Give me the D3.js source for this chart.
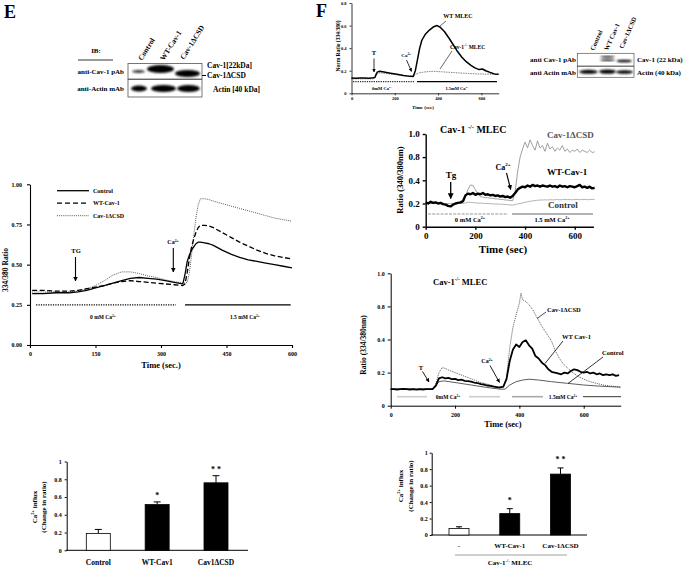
<!DOCTYPE html>
<html><head><meta charset="utf-8">
<script src="https://cdn.jsdelivr.net/npm/d3@7"></script>
<style>
html,body{margin:0;padding:0;background:#fff;}
svg{display:block;}
</style></head><body>
<svg id="c" width="688" height="566"></svg>
<script>
// ================= DATA =================
// Panel E – line chart
const eSeriesNames = ["Control","WT-Cav-1","Cav-1ΔCSD"];
const eTime    = [5,30,60,90,110,130,150,170,190,210,230,250,270,290,310,330,350,355,360,365,370,375,380,385,390,400,410,420,440,460,480,500,520,540,560,580,600];
const eControl = [.32,.32,.325,.325,.33,.34,.355,.37,.385,.40,.415,.42,.415,.41,.40,.39,.38,.44,.52,.56,.59,.61,.63,.64,.64,.635,.63,.62,.59,.565,.545,.53,.52,.51,.50,.49,.48];
const eWT      = [.34,.34,.335,.335,.34,.35,.36,.37,.385,.395,.40,.395,.39,.385,.38,.375,.37,.38,.45,.54,.61,.66,.70,.73,.745,.745,.74,.73,.70,.67,.64,.615,.59,.57,.555,.545,.535];
const eCSD     = [.33,.33,.33,.33,.335,.35,.37,.40,.435,.455,.455,.445,.43,.42,.405,.395,.385,.385,.39,.45,.56,.68,.79,.87,.91,.91,.905,.895,.88,.865,.85,.835,.82,.805,.79,.78,.77];
const eXTicks  = [0,150,300,450,600];
const eYTicks  = [0,0.25,0.5,0.75,1.0];

// Panel E – bar chart
const eBarCats  = ["Control","WT-Cav1","Cav1ΔCSD"];
const eBarVals  = [0.19,0.515,0.76];
const eBarErr   = [0.045,0.03,0.08];
const eBarStars = ["","*","* *"];
const eBarYTicks = [0,0.2,0.4,0.6,0.8,1];
const eBarYLabels = ["0","0.2","0.4","0.6","0.8","1"];

// Panel F – top small chart
const ftWT = [[0,.135],[20,.134],[40,.136],[60,.135],[80,.134],[100,.137],[108,.14],[114,.17],[120,.19],[130,.195],[150,.188],[180,.178],[210,.168],[240,.158],[270,.15],[285,.148],[295,.2],[305,.3],[315,.4],[325,.47],[340,.52],[360,.56],[380,.59],[395,.6],[410,.585],[430,.545],[450,.49],[470,.43],[490,.37],[510,.32],[530,.28],[550,.25],[570,.225],[590,.21],[605,.215],[620,.2],[640,.185],[660,.172],[680,.168]];
const ftKO = [[0,.128],[100,.128],[112,.15],[122,.18],[140,.18],[180,.17],[220,.162],[260,.155],[285,.15],[295,.165],[310,.18],[340,.19],[380,.195],[420,.19],[460,.185],[500,.18],[540,.176],[580,.172],[620,.17],[680,.168]];
const ftXTicks = [0,200,400,600];
const ftYTicks = [0,0.2,0.4,0.6,0.8];

// Panel F – middle chart (Tg)
const fmTime = [0,10,20,30,40,50,60,70,80,90,100,110,120,130,140,150,160,170,180,190,200,210,220,230,240,250,260,270,280,290,300,310,320,330,340,350,360,370,380,390,400,410,420,430,440,450,460,470,480,490,500,510,520,530,540,550,560,570,580,590,600,610,620,630,640,650,660,670,680];
const fmWT = [.21,.20,.215,.205,.21,.20,.205,.195,.19,.18,
  .175,.19,.20,.205,.21,.22,.27,.285,.28,.29,
  .275,.285,.28,.29,.275,.28,.27,.275,.265,.27,
  .26,.265,.255,.26,.25,.265,.29,.32,.335,.345,
  .34,.355,.345,.36,.35,.355,.345,.355,.35,.345,
  .355,.345,.35,.34,.355,.345,.35,.34,.35,.345,
  .34,.35,.36,.34,.345,.335,.345,.33,.335];
const fmCSD = [.205,.2,.2,.205,.2,.2,.2,.195,.19,.185,
  .18,.19,.2,.2,.205,.21,.26,.32,.36,.355,
  .32,.28,.26,.255,.25,.25,.245,.245,.24,.24,
  .235,.235,.23,.23,.225,.225,.3,.55,.8,.87,
  .93,.88,.95,.9,.86,.94,.88,.9,.85,.92,
  .87,.89,.85,.88,.86,.9,.85,.87,.84,.86,
  .85,.87,.84,.86,.85,.84,.86,.84,.845];
const fmControl = [.2,.2,.2,.2,.2,.2,.2,.2,.2,.2,.2,.2,.2,.2,.2,.2,
  .205,.21,.21,.208,.205,.204,.203,.202,.2,.2,.198,.197,.196,.195,.194,.193,.192,.19,.188,.186,
  .19,.196,.2,.205,.21,.215,.22,.222,.225,.228,.23,
  .23,.232,.23,.233,.231,.232,.234,.232,.233,.235,.233,.234,.232,.234,.235,.233,.234,.235,.233,.234,.235,.234];
const fmXTicks = [0,200,400,600];
const fmYTicks = [0,0.2,0.4,0.8,1.0];
const fmYLabels = ["0","0.2","0.4","0.8","1.0"];

// Panel F – lower chart (T)
const flTime = [0,10,20,30,40,50,60,70,80,90,100,110,120,130,140,150,160,170,180,190,200,210,220,230,240,250,260,270,280,290,300,310,320,330,340,350,360,370,380,390,400,410,420,430,440,450,460,470,480,490,500,510,520,530,540,550,560,570,580,590,600,610,620,630,640,650,660,670,680,690,700,710];
const flWT = [.1,.1,.098,.1,.102,.1,.098,.1,.097,.1,
  .098,.1,.1,.1,.12,.165,.172,.165,.168,.16,
  .162,.155,.157,.15,.148,.145,.14,.137,.13,.128,
  .122,.12,.115,.112,.11,.115,.16,.27,.34,.37,
  .355,.385,.395,.365,.345,.3,.285,.26,.245,.22,
  .205,.2,.195,.19,.2,.195,.21,.22,.215,.205,
  .2,.205,.195,.2,.19,.195,.185,.19,.185,.19,
  .18,.185];
const flCSD = [[0,.1],[130,.1],[140,.13],[150,.2],[160,.23],[170,.225],[180,.215],[200,.2],[220,.185],[240,.17],[260,.155],[280,.14],[300,.13],[320,.12],[340,.11],[350,.11],[360,.17],[370,.35],[380,.55],[390,.7],[400,.82],[405,.88],[410,.84],[420,.83],[430,.81],[440,.77],[450,.7],[460,.63],[470,.56],[480,.5],[490,.44],[500,.39],[510,.34],[520,.3],[530,.27],[540,.245],[560,.21],[580,.18],[600,.16],[620,.145],[640,.135],[660,.125],[680,.12],[700,.115],[715,.112]];
const flControl = [[0,.1],[130,.1],[140,.12],[150,.145],[165,.15],[200,.14],[250,.125],[300,.11],[340,.1],[355,.1],[370,.125],[390,.145],[410,.155],[430,.16],[460,.155],[500,.145],[550,.135],[600,.125],[650,.118],[715,.112]];
const flXTicks = [0,200,400,600];
const flYTicks = [0,0.2,0.4,0.8,1.0];
const flYLabels = ["0","0.2","0.4","0.8","1.0"];

// Panel F – bar chart
const fBarCats  = ["-","WT-Cav-1","Cav-1ΔCSD"];
const fBarVals  = [0.08,0.26,0.74];
const fBarErr   = [0.02,0.06,0.075];
const fBarStars = ["","*","* *"];
const fBarYTicks = [0,0.2,0.4,0.6,0.8,1];
const fBarYLabels = ["0","0.2","0.4","0.6","0.8","1"];

// ================= DRAWING =================
const FONT = "'Liberation Serif','Times New Roman',serif";
const svg = d3.select("#c").attr("font-family", FONT).attr("font-weight","bold");
const defs = svg.append("defs");
defs.append("marker").attr("id","ah").attr("viewBox","0 0 10 10").attr("refX",9).attr("refY",5)
  .attr("markerWidth",4.5).attr("markerHeight",4.5).attr("orient","auto")
  .append("path").attr("d","M0,0L10,5L0,10z").attr("fill","#000");
defs.append("filter").attr("id","blur").attr("x","-50%").attr("y","-50%").attr("width","200%").attr("height","200%")
  .append("feGaussianBlur").attr("stdDeviation",0.9);

function txt(x, y, parts, fs, anchor, opts) {
  opts = opts || {};
  const t = svg.append("text").attr("x",x).attr("y",y).attr("font-size",fs)
    .attr("text-anchor",anchor||"start").attr("fill",opts.fill||"#000");
  if (opts.rotate) t.attr("transform",`rotate(${opts.rotate},${x},${y})`);
  const list = (typeof parts === "string") ? [[parts]] : parts;
  let sup = false;
  list.forEach(p => {
    const ts = t.append("tspan").text(p[0]);
    if (p[1]) { ts.attr("dy", -fs*0.4).attr("font-size", fs*0.62); }
    else if (sup) { ts.attr("dy", fs*0.4); }
    sup = !!p[1];
  });
  return t;
}
function styleAxis(g, fs, sw) {
  g.attr("font-family", FONT).attr("font-size", fs).attr("font-weight","bold");
  g.selectAll("path.domain").attr("stroke","#000").attr("stroke-width",sw);
  g.selectAll(".tick line").attr("stroke","#000").attr("stroke-width",sw);
  g.selectAll(".tick text").attr("fill","#000");
}
function drawLine(data, xs, ys, color, w, dash) {
  svg.append("path").datum(data).attr("fill","none").attr("stroke",color)
    .attr("stroke-width",w).attr("stroke-dasharray",dash||null).attr("stroke-linejoin","round")
    .attr("d", d3.line().x(d=>xs(d[0])).y(d=>ys(d[1])));
}
function arrow(x1,y1,x2,y2,w) {
  svg.append("line").attr("x1",x1).attr("y1",y1).attr("x2",x2).attr("y2",y2)
    .attr("stroke","#000").attr("stroke-width",w||1).attr("marker-end","url(#ah)");
}
function seg(x1,y1,x2,y2,color,w,dash) {
  svg.append("line").attr("x1",x1).attr("y1",y1).attr("x2",x2).attr("y2",y2)
    .attr("stroke",color).attr("stroke-width",w).attr("stroke-dasharray",dash||null);
}
function band(x1,x2,yc,h,op) {
  svg.append("ellipse").attr("cx",(x1+x2)/2).attr("cy",yc).attr("rx",(x2-x1)/2).attr("ry",h/2)
    .attr("fill","#000").attr("opacity",op||1).attr("filter","url(#blur)");
}

// ---------- Panel letters ----------
txt(4,18,"E",18);
txt(316,17,"F",18);

// ---------- E blot ----------
txt(96,53,"IB:",7,"middle");
seg(78,60,113,60,"#000",0.8);
txt(124,74,"anti-Cav-1 pAb",7,"end");
txt(124,91,"anti-Actin mAb",7,"end");
band(132,145,71.5,3,0.8);
band(147,174,69,8);
band(175,200,73.5,7);
band(131,147,88.5,6);
band(151,176,88.5,7);
band(177,200,88.5,7);
svg.append("rect").attr("x",128).attr("y",63.5).attr("width",74).attr("height",15.5).attr("fill","none").attr("stroke","#555").attr("stroke-width",0.8);
svg.append("rect").attr("x",128).attr("y",79.5).attr("width",74).attr("height",17.5).attr("fill","none").attr("stroke","#555").attr("stroke-width",0.8);
txt(142,61,"Control",7.5,"start",{rotate:-58});
txt(164,61,"WT-Cav-1",7.5,"start",{rotate:-58});
txt(184,60,"Cav-1ΔCSD",7.5,"start",{rotate:-58});
txt(207,68,"Cav-1[22kDa]",7.5);
seg(202,75.5,206,75.5,"#000",1);
txt(207,78,"Cav-1ΔCSD",7.5);
txt(213,92,"Actin [40 kDa]",7.5);

// ---------- E line chart ----------
const ex = d3.scaleLinear().domain([0,600]).range([30,292]);
const ey = d3.scaleLinear().domain([0,1]).range([345,184.3]);
svg.append("g").attr("transform","translate(0,345)")
  .call(d3.axisBottom(ex).tickValues(eXTicks).tickSize(3).tickSizeOuter(0).tickPadding(4))
  .call(g=>styleAxis(g,6,1.1));
svg.append("g").attr("transform","translate(30,0)")
  .call(d3.axisLeft(ey).tickValues(eYTicks).tickFormat(d3.format(".2f")).tickSize(3).tickSizeOuter(0).tickPadding(5))
  .call(g=>styleAxis(g,6,1.1));
txt(8,270,"334/380 Ratio",7.5,"middle",{rotate:-90});
txt(161,368,"Time (sec.)",8.5,"middle");
drawLine(d3.zip(eTime,eCSD), ex, ey, "#444", 0.9, "1,1.1");
drawLine(d3.zip(eTime,eWT), ex, ey, "#000", 1.3, "5,2.5");
drawLine(d3.zip(eTime,eControl), ex, ey, "#000", 1.3);
// legend
const legStyles = [["#000",1.3,null],["#000",1.3,"5,3"],["#444",0.9,"1,1.1"]];
eSeriesNames.forEach((n,i)=>{
  const yy = 190.7 + i*12.5;
  seg(57,yy,89,yy,legStyles[i][0],legStyles[i][1],legStyles[i][2]);
  txt(93,yy+2,n,6);
});
// annotations
txt(76,253,"TG",6.5,"middle");
arrow(75.5,257,75.5,281,1.1);
txt(173,244,[["Ca"],["2+",true]],6,"middle");
arrow(173.3,248,173.3,272,1.1);
seg(ex(14),ey(0.25),ex(334),ey(0.25),"#000",1.2,"1.2,1.2");
seg(ex(355),ey(0.25),ex(597),ey(0.25),"#000",1.2);
txt(ex(167),319,[["0 mM Ca"],["2+",true]],5.5,"middle");
txt(ex(492),319,[["1.5 mM Ca"],["2+",true]],5.5,"middle");

// ---------- E bar chart ----------
const ebx = d3.scalePoint().domain(eBarCats).range([98.3,216]);
const eby = d3.scaleLinear().domain([0,1]).range([550.3,461.5]);
svg.append("g").attr("transform","translate(66.7,0)")
  .call(d3.axisLeft(eby).tickValues(eBarYTicks).tickFormat((d,i)=>eBarYLabels[i]).tickSize(2).tickSizeOuter(0).tickPadding(3))
  .call(g=>styleAxis(g,6,1));
seg(66.2,550.3,248,550.3,"#000",1);
eBarCats.forEach((c,i)=>{
  const cx = ebx(c), w = 24;
  seg(cx,eby(eBarVals[i]),cx,eby(eBarVals[i]+eBarErr[i]),"#000",1);
  seg(cx-3.5,eby(eBarVals[i]+eBarErr[i]),cx+3.5,eby(eBarVals[i]+eBarErr[i]),"#000",1);
  svg.append("rect").attr("x",cx-w/2).attr("y",eby(eBarVals[i])).attr("width",w)
    .attr("height",eby(0)-eby(eBarVals[i])).attr("fill",i===0?"#fff":"#000").attr("stroke","#000").attr("stroke-width",0.8);
  txt(cx,564.5,c,7.5,"middle");
  if (eBarStars[i]) txt(cx, eby(eBarVals[i]+eBarErr[i])-4, eBarStars[i], 8, "middle");
});
txt(37,507,[["Ca"],["2+",true],[" influx"]],7,"middle",{rotate:-90});
txt(46,507,"(Change in ratio)",7,"middle",{rotate:-90});

// ---------- F top small chart ----------
const ftx = d3.scaleLinear().domain([0,680]).range([351.5,498.7]);
const fty = d3.scaleLinear().domain([0,0.8]).range([93.3,3]);
svg.append("g").attr("transform","translate(0,93.3)")
  .call(d3.axisBottom(ftx).tickValues(ftXTicks).tickSize(2).tickSizeOuter(0).tickPadding(2))
  .call(g=>styleAxis(g,4.5,0.8));
svg.append("g").attr("transform","translate(351.5,0)")
  .call(d3.axisLeft(fty).tickValues(ftYTicks).tickFormat(d=>d===0?"0":d3.format(".1f")(d)).tickSize(2).tickSizeOuter(0).tickPadding(3))
  .call(g=>styleAxis(g,4.5,0.8));
txt(340,46,"Norm Ratio (334/380)",5.5,"middle",{rotate:-90});
txt(423,109,"Time (sec)",5,"middle");
drawLine(ftKO, ftx, fty, "#333", 0.8, "0.8,0.9");
drawLine(ftWT, ftx, fty, "#000", 1.5);
txt(374,55,"T",6.5,"middle");
arrow(374,58.5,374,72,0.8);
txt(406,57,[["Ca"],["2+",true]],5,"middle");
arrow(406.5,60,411.5,71.5,0.8);
txt(458,18,"WT MLEC",6,"middle");
seg(446,21,440,26,"#000",0.6);
txt(450,48.5,[["Cav-1"],["-/-",true],[" MLEC"]],5.5,"start");
seg(452,51,440,69,"#000",0.6);
seg(353,81.7,415,81.7,"#000",1,"1.3,1");
seg(417,81.7,497,81.7,"#000",1.3);
txt(382,89.5,[["0mM Ca"],["2+",true]],4.5,"middle");
txt(457,89.5,[["1.5mM Ca"],["2+",true]],4.5,"middle");

// ---------- F blot ----------
txt(576,61.5,"anti Cav-1 pAb",7,"end");
txt(576,75,"anti Actin mAb",7,"end");
band(600,615,56.8,1.8);
band(600,615,60.2,1.8);
band(616.5,632,61,2.6);
band(579,598,71.8,4);
band(599,616,71.6,4.4);
band(616,633,72,3.6);
svg.append("rect").attr("x",577.3).attr("y",53.3).attr("width",56.7).attr("height",12.7).attr("fill","none").attr("stroke","#555").attr("stroke-width",0.7);
svg.append("rect").attr("x",577.3).attr("y",66.3).attr("width",56.7).attr("height",11).attr("fill","none").attr("stroke","#555").attr("stroke-width",0.7);
txt(594,51,"Control",6.5,"start",{rotate:-66});
txt(608,51,"WT Cav-1",6.5,"start",{rotate:-66});
txt(623,49,"Cav-1ΔCSD",6.5,"start",{rotate:-66});
txt(637,62,"Cav-1 (22 kDa)",7);
txt(637,75,"Actin (40 kDa)",7);

// ---------- F middle chart ----------
const fmx = d3.scaleLinear().domain([0,675]).range([425.7,593.4]);
const fmy = d3.scaleLinear().domain(fmYTicks).range([226.7,203.5,180.3,157.1,134]);
svg.append("g").attr("transform","translate(0,226.7)")
  .call(d3.axisBottom(fmx).tickValues(fmXTicks).tickSize(3).tickSizeOuter(0).tickPadding(3))
  .call(g=>styleAxis(g,9,1.4));
svg.append("g").attr("transform","translate(425.7,0)")
  .call(d3.axisLeft(fmy).tickValues(fmYTicks).tickFormat((d,i)=>fmYLabels[i]).tickSize(3).tickSizeOuter(0).tickPadding(3))
  .call(g=>styleAxis(g,9,1.4));
txt(403,180,"Ratio (340/380nm)",8.5,"middle",{rotate:-90});
txt(503,253,"Time (sec)",11,"middle");
txt(440,132.5,[["Cav-1 "],["-/-",true],[" MLEC"]],10,"start");
seg(428,214,508,214,"#bbb",1.3,"3,1.2");
seg(512,214,593,214,"#999",1.5);
txt(470,222,[["0 mM Ca"],["2+",true]],6.5,"middle");
txt(552,222,[["1.5 mM Ca"],["2+",true]],6.5,"middle");
drawLine(d3.zip(fmTime,fmControl), fmx, fmy, "#aaa", 0.9);
drawLine(d3.zip(fmTime,fmCSD), fmx, fmy, "#888", 0.8);
drawLine(d3.zip(fmTime,fmWT), fmx, fmy, "#000", 2.4);
txt(547,138,"Cav-1ΔCSD",9,"start",{fill:"#555"});
txt(547,175,"WT-Cav-1",9,"start");
txt(548,208,"Control",9,"start",{fill:"#333"});
txt(451,178,"Tg",9,"middle");
arrow(450.7,182,450.7,198.5,1.3);
txt(503,169.5,[["Ca"],["2+",true]],8,"middle");
arrow(506.5,173,510.7,189.5,1.1);

// ---------- F lower chart ----------
const flx = d3.scaleLinear().domain([0,715]).range([390.7,620.7]);
const fly = d3.scaleLinear().domain(flYTicks).range([405.7,372.6,339.5,306.4,273.3]);
svg.append("g").attr("transform","translate(0,405.7)")
  .call(d3.axisBottom(flx).tickValues(flXTicks).tickSize(3).tickSizeOuter(0).tickPadding(4))
  .call(g=>styleAxis(g,6,1));
svg.append("g").attr("transform","translate(390.7,0)")
  .call(d3.axisLeft(fly).tickValues(flYTicks).tickFormat((d,i)=>flYLabels[i]).tickSize(3).tickSizeOuter(0).tickPadding(3))
  .call(g=>styleAxis(g,6,1));
txt(366,345,"Ratio (334/380nm)",7.5,"middle",{rotate:-90});
txt(503,427,"Time (sec)",8.5,"middle");
txt(433,284.5,[["Cav-1"],["-/-",true],[" MLEC"]],8.5,"start");
seg(397,396.7,427,396.7,"#ccc",1.6);
seg(469,396.7,500,396.7,"#ccc",1.6);
seg(512,396.7,543,396.7,"#aaa",1.6);
seg(583,396.7,621,396.7,"#000",0.8);
txt(448,399,[["0mM Ca"],["2+",true]],5.5,"middle");
txt(563,399,[["1.5mM Ca"],["2+",true]],5.5,"middle");
drawLine(flControl, flx, fly, "#333", 0.8);
drawLine(flCSD, flx, fly, "#444", 0.9, "1,1");
drawLine(d3.zip(flTime,flWT), flx, fly, "#000", 1.8);
txt(547,311.5,"Cav-1ΔCSD",6.5,"start");
seg(546,312,537,318.5,"#000",0.7);
txt(562,339,"WT Cav-1",6.5,"start");
seg(563,341,545,363.5,"#000",0.8);
txt(602,355,"Control",6.5,"start");
seg(603,357,568,383.5,"#000",0.8);
txt(421,369.5,"T",6.5,"middle");
arrow(422.5,371.5,429,382,0.9);
txt(487,363,[["Ca"],["2+",true]],6,"middle");
arrow(490,365.5,499.5,382.5,0.9);

// ---------- F bar chart ----------
const fbx = d3.scalePoint().domain(fBarCats).range([459,560.5]);
const fby = d3.scaleLinear().domain([0,1]).range([535,452.7]);
svg.append("g").attr("transform","translate(431.7,0)")
  .call(d3.axisLeft(fby).tickValues(fBarYTicks).tickFormat((d,i)=>fBarYLabels[i]).tickSize(2).tickSizeOuter(0).tickPadding(2))
  .call(g=>styleAxis(g,6,1));
seg(431.2,535,587,535,"#000",1);
fBarCats.forEach((c,i)=>{
  const cx = fbx(c), w = 20;
  seg(cx,fby(fBarVals[i]),cx,fby(fBarVals[i]+fBarErr[i]),"#000",1);
  seg(cx-3,fby(fBarVals[i]+fBarErr[i]),cx+3,fby(fBarVals[i]+fBarErr[i]),"#000",1);
  svg.append("rect").attr("x",cx-w/2).attr("y",fby(fBarVals[i])).attr("width",w)
    .attr("height",fby(0)-fby(fBarVals[i])).attr("fill",i===0?"#fff":"#000").attr("stroke","#000").attr("stroke-width",0.8);
  txt(cx,547.5,c,7,"middle");
  if (fBarStars[i]) txt(cx, fby(fBarVals[i]+fBarErr[i])-6, fBarStars[i], 8, "middle");
});
seg(455,555,567,555,"#888",0.8);
txt(510,565,[["Cav-1"],["-/-",true],[" MLEC"]],7,"middle");
txt(403,486,[["Ca"],["2+",true],[" influx"]],7,"middle",{rotate:-90});
txt(413,486,"(Change in ratio)",7,"middle",{rotate:-90});
</script>
</body></html>
